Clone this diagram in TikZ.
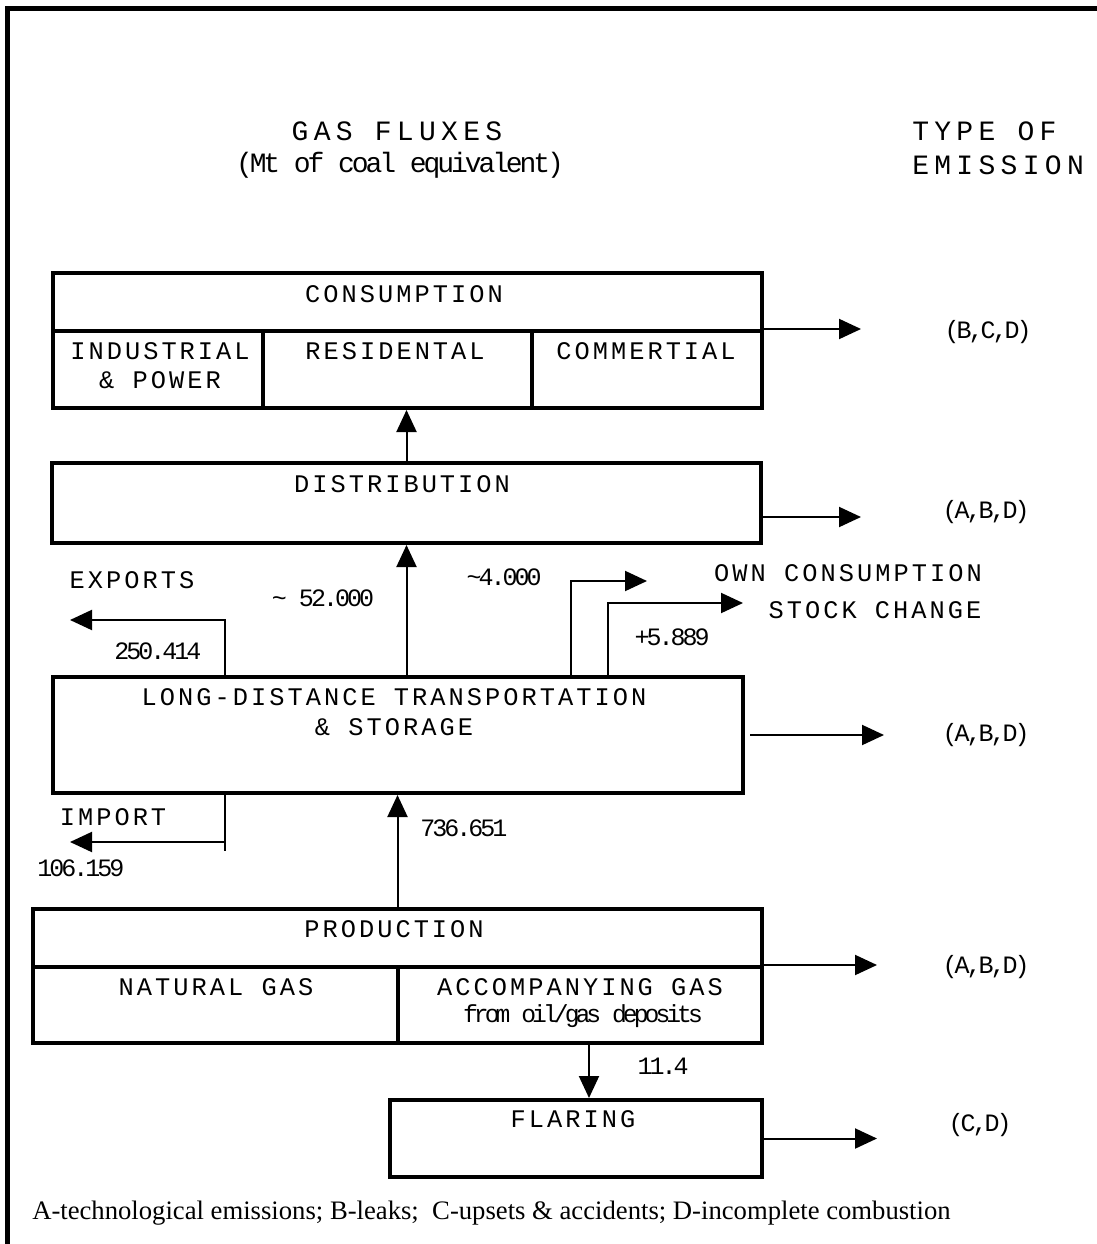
\documentclass[tikz,border=0pt]{standalone}
\usepackage{fontspec}
\setmainfont{Liberation Sans}
\newfontfamily\lblfont[LetterSpace=12]{Liberation Mono}
\newfontfamily\hdrfont[LetterSpace=19]{Liberation Mono}
\newfontfamily\hdrtight[LetterSpace=-11]{Liberation Mono}
\newfontfamily\numfont[LetterSpace=-12]{Liberation Mono}
\newfontfamily\tightfont[LetterSpace=-16]{Liberation Mono}
\newfontfamily\legfont{Liberation Serif}
\usetikzlibrary{arrows.meta}
\newcommand\pxu{0.75pt}
\begin{document}
\begin{tikzpicture}[x=0.75pt,y=-0.75pt,
  boxn/.style={draw, line width=3pt, rectangle, inner sep=0pt},
  arr/.style={line width=1.5pt, -{Triangle[length=16.5pt,width=15pt]}},
  flow/.style={line width=1.5pt},
  lbl/.style={inner sep=0pt, font=\lblfont\fontsize{19}{22}\selectfont, align=center},
  hdr/.style={inner sep=0pt, font=\hdrfont\fontsize{21}{27}\selectfont, align=center},
  num/.style={inner sep=0pt, font=\numfont\fontsize{18.75}{22}\selectfont},
]
\useasboundingbox (0,0) rectangle (1096,1244);
% frame
\draw[line width=3.75pt, line join=miter] (7,1250) -- (7,9) -- (1100,9);

% headers
\node[hdr] (h1) at (397,131) {GAS FLUXES};
\node[hdr, font=\hdrtight\fontsize{21}{27}\selectfont] (h2) at (400,165) {(Mt of coal equivalent)};
\node[hdr, anchor=west] (h3) at (912,131) {TYPE OF};
\node[hdr, anchor=west] (h4) at (912,165) {EMISSION};

% consumption
\node[boxn, minimum width=709*\pxu, minimum height=58*\pxu] (cons) at (407.5,302) {};
\node[boxn, minimum width=210*\pxu, minimum height=77*\pxu] (ind) at (158,369.5) {};
\node[boxn, minimum width=269*\pxu, minimum height=77*\pxu] (res) at (397.5,369.5) {};
\node[boxn, minimum width=230*\pxu, minimum height=77*\pxu] (com) at (647,369.5) {};
\node[lbl] (tcons) at (404,294) {CONSUMPTION};
\node[lbl] (tind) at (160,365.5) {INDUSTRIAL\\\& POWER};
\node[lbl] (tres) at (395,351) {RESIDENTAL};
\node[lbl] (tcom) at (646,351) {COMMERTIAL};

% distribution
\node[boxn, minimum width=709*\pxu, minimum height=80*\pxu] (dist) at (406.5,503) {};
\node[lbl] (tdist) at (402,484) {DISTRIBUTION};

% long distance
\node[boxn, minimum width=690*\pxu, minimum height=116*\pxu] (ld) at (398,735) {};
\node[lbl] (tld) at (394,712) {LONG-DISTANCE TRANSPORTATION\\\& STORAGE};

% production
\node[boxn, minimum width=729*\pxu, minimum height=58*\pxu] (prod) at (397.5,938) {};
\node[boxn, minimum width=365*\pxu, minimum height=76*\pxu] (nat) at (215.5,1005) {};
\node[boxn, minimum width=364*\pxu, minimum height=76*\pxu] (acc) at (580,1005) {};
\node[lbl] (tprod) at (394,929) {PRODUCTION};
\node[lbl] (tnat) at (216,987) {NATURAL GAS};
\node[lbl] (tacc) at (580,987) {ACCOMPANYING GAS};
\node[num, font=\tightfont\fontsize{18.5}{22}\selectfont] (tacc2) at (583,1016) {from oil/gas deposits};

% flaring
\node[boxn, minimum width=372*\pxu, minimum height=77*\pxu] (flar) at (576,1138.5) {};
\node[lbl] (tflar) at (573,1119) {FLARING};

% emission labels
\node[num] (e1) at (988,332) {(B,C,D)};
\node[num] (e2) at (986,512) {(A,B,D)};
\node[num] (e3) at (986,735) {(A,B,D)};
\node[num] (e4) at (986,967) {(A,B,D)};
\node[num] (e5) at (980,1125) {(C,D)};

% emission arrows
\draw[arr] (com.north east) -- ++(97,0);
\draw[arr] ([yshift=-10.5pt]dist.east) -- ++(98,0);
\draw[arr] ([xshift=3.75pt]ld.east) -- ++(134,0);
\draw[arr] (acc.north east) -- ++(113,0);
\draw[arr] (flar.east) -- ++(113,0);

% main flow
\draw[arr] (dist.north) -- (dist.north |- res.south);
\draw[arr] (ld.north -| dist.south) -- (dist.south);
\draw[arr] (prod.north) -- (prod.north |- ld.south);
\coordinate (fx) at (589,0);
\draw[arr] (acc.south -| fx) -- (flar.north -| fx);

% exports
\coordinate (ex) at (225,0);
\coordinate (exptip) at (70,620);
\draw[arr] (ld.north -| ex) |- (exptip);
\node[lbl] (texp) at (132,580) {EXPORTS};
\node[num] (nexp) at (158,651) {250.414};

% own consumption & stock change
\coordinate (ocx) at (571,0);
\coordinate (oc) at (647,581);
\draw[arr] (ld.north -| ocx) |- (oc);
\coordinate (scx) at (608,0);
\coordinate (sc) at (743,603);
\draw[arr] (ld.north -| scx) |- (sc);
\node[num] (n52) at (323,598) {\textasciitilde\ 52.000};
\node[num] (n4) at (504,577) {\textasciitilde 4.000};
\node[num] (n5) at (672,637) {+5.889};
\node[lbl] (town) at (848,573) {OWN CONSUMPTION};
\node[lbl] (tstock) at (875,610) {STOCK CHANGE};

% import
\coordinate (impbot) at (225,851);
\coordinate (imptip) at (70,842);
\draw[flow] (ld.south -| ex) -- (impbot);
\draw[arr] (imptip -| ex) -- (imptip);
\node[lbl] (timp) at (113,817) {IMPORT};
\node[num] (nimp) at (81,868) {106.159};
\node[num] (nprod) at (464,828) {736.651};
\node[num] (nflar) at (663,1066) {11.4};

% legend
\node[inner sep=0pt, anchor=west, font=\legfont\fontsize{20}{24}\selectfont] (leg) at (32,1213)
  {A-technological emissions; B-leaks;\ \ C-upsets \& accidents; D-incomplete combustion};
\end{tikzpicture}
\end{document}
